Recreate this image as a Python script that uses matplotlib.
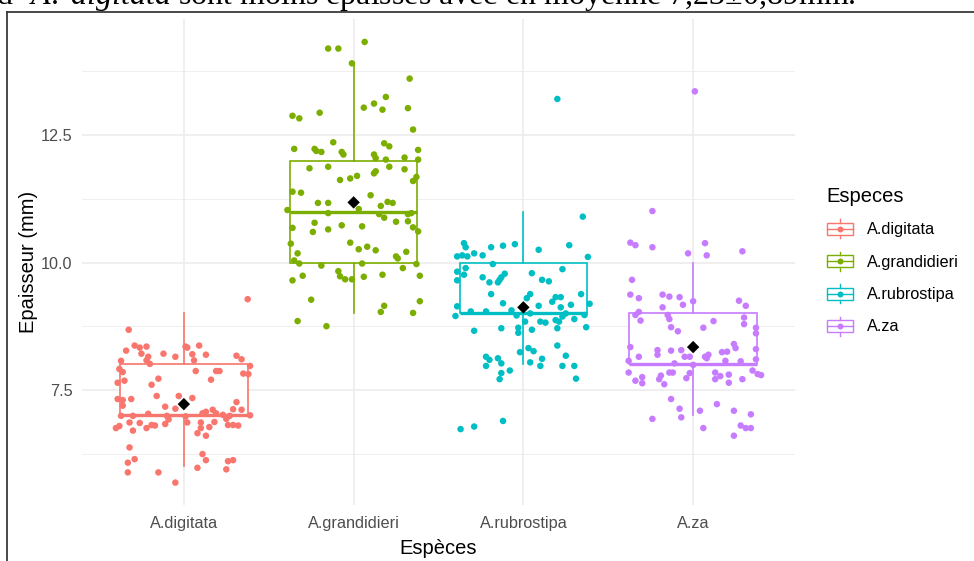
import matplotlib
matplotlib.use("Agg")
import matplotlib.pyplot as plt
from matplotlib.lines import Line2D
from matplotlib.patches import Rectangle
from matplotlib.legend_handler import HandlerBase

plt.rcParams['font.family'] = ['Liberation Sans', 'DejaVu Sans']
plt.rcParams['mathtext.fontset'] = 'custom'
plt.rcParams['mathtext.rm'] = 'Liberation Serif'
plt.rcParams['mathtext.it'] = 'Liberation Serif:italic'

# ---------------- data ----------------
species = ["A.digitata", "A.grandidieri", "A.rubrostipa", "A.za"]
colors = ["#F8766D", "#7CAE00", "#00BFC4", "#C77CFF"]

box_q1 = [7.0, 10.0, 9.0, 8.0]
box_med = [7.0, 11.0, 9.0, 8.0]
box_q3 = [8.0, 12.0, 10.0, 9.0]
box_whislo = [6.0, 9.0, 8.0, 7.0]
box_whishi = [9.0, 13.9, 11.0, 10.0]
group_means = [7.22, 11.18, 9.12, 8.34]

digitata_val = [9.28, 8.68, 8.37, 8.27, 8.33, 8.35, 8.21, 8.15, 8.08, 8.07, 8.01, 8.21, 8.15, 8.35, 8.33,
                8.37, 8.20, 8.19, 8.08, 8.17, 8.10, 7.97, 7.91, 7.85, 7.68, 7.64, 7.72, 7.60, 7.87, 7.87,
                7.87, 7.70, 7.82, 7.81, 7.32, 7.30, 7.19, 7.32, 7.38, 7.17, 7.38, 7.34, 7.26, 7.12, 7.11,
                7.13, 6.99, 6.99, 7.03, 6.99, 6.92, 6.98, 6.86, 7.04, 7.07, 7.11, 7.04, 7.01, 6.93, 6.99,
                7.00, 6.75, 6.79, 6.86, 6.70, 6.85, 6.75, 6.81, 6.80, 6.83, 6.86, 6.75, 6.77, 6.87, 6.65,
                6.60, 6.81, 6.81, 6.80, 6.37, 6.07, 6.14, 5.88, 5.88, 5.68, 6.24, 6.12, 5.97, 6.10, 6.12,
                5.94]
digitata_jit = [.376, -.325, -.29, -.34, -.26, -.22, -.25, -.21, -.22, -.37, -.20, -.12, -.05, .01, .02,
                .09, .05, .13, .06, .31, .34, .39, -.38, -.36, -.35, -.39, -.15, -.19, .07, .19,
                .21, .16, .35, .38, -.39, -.36, -.36, -.31, -.16, -.11, -.03, .05, .31, .29, .34,
                -.05, -.37, -.30, -.21, -.10, -.09, .01, .02, .11, .13, .17, .19, .23, .25, .27,
                .39, -.40, -.38, -.32, -.30, -.26, -.22, -.19, -.17, -.11, .10, .10, .15, .18, .08,
                .13, .26, .29, .32, -.32, -.33, -.29, -.33, -.15, -.05, .11, .13, .08, .26, .29,
                .25]

grandidieri_val = [14.33, 14.20, 14.20, 13.91, 13.61, 12.88, 12.83, 12.94, 13.04, 13.12, 13.25, 13.00,
                   13.03, 12.61, 12.23, 12.23, 12.19, 12.17, 12.36, 12.17, 12.12, 12.34, 12.28, 12.21,
                   12.12, 12.05, 12.02, 12.06, 12.02, 11.85, 11.88, 11.88, 11.83, 11.75, 11.79, 11.70,
                   11.65, 11.62, 11.68, 11.60, 11.39, 11.37, 11.32, 11.17, 11.17, 11.19, 11.17, 11.11,
                   11.03, 10.97, 11.05, 10.95, 10.88, 10.95, 10.97, 10.81, 10.80, 10.78, 10.68, 10.60,
                   10.65, 10.73, 10.71, 10.69, 10.61, 10.37, 10.39, 10.26, 10.31, 10.24, 10.21, 10.12,
                   10.08, 10.18, 10.04, 9.98, 9.94, 9.98, 9.97, 9.89, 9.65, 9.74, 9.83, 9.73,
                   9.67, 9.67, 9.72, 9.76, 9.74, 9.27, 9.15, 9.03, 9.24, 9.01, 8.85, 8.75]
grandidieri_jit = [.065, -.15, -.09, -.01, .33, -.36, -.32, -.20, .06, .12, .19, .17,
                   .32, .35, -.35, -.23, -.22, -.19, -.12, -.07, -.06, .18, .21, .38,
                   .12, .13, .19, .30, .38, -.26, -.15, .21, .30, .12, .13, .02,
                   -.02, -.08, .37, .35, -.36, -.31, .10, -.21, -.15, .20, .23, .16,
                   -.39, -.15, .03, .15, .18, .32, .34, .32, .25, -.23, -.36, -.24,
                   -.15, -.07, .05, .35, .38, -.37, -.02, .03, .08, .13, .31, .25,
                   .26, -.33, -.35, -.32, -.19, .05, .37, .29, -.36, -.30, -.09, -.08,
                   -.05, -.01, .06, .17, .39, -.25, .18, .16, .39, .35, -.33, -.16]

rubrostipa_val = [10.90, 10.38, 10.30, 10.12, 10.14, 10.12, 10.18, 10.14, 10.30, 10.33, 10.36, 10.25,
                  10.34, 10.11, 9.97, 9.82, 9.89, 9.76, 9.65, 9.71, 9.61, 9.66, 9.71, 9.78,
                  9.61, 9.79, 9.66, 9.63, 9.87, 9.38, 9.38, 9.38, 9.30, 9.20, 9.15, 9.23,
                  9.32, 9.32, 9.12, 9.17, 9.19, 9.14, 8.95, 9.04, 9.04, 9.06, 8.96, 8.84,
                  8.84, 8.82, 9.00, 8.87, 8.84, 8.94, 9.00, 8.89, 8.97, 8.73, 8.71, 8.66,
                  8.71, 8.72, 8.62, 8.68, 8.24, 8.32, 8.26, 8.37, 8.17, 8.15, 8.09, 8.12,
                  8.02, 7.97, 8.04, 8.11, 7.97, 7.97, 7.97, 7.88, 7.83, 7.71, 7.72, 6.73,
                  6.78, 6.89, 13.21]
rubrostipa_jit = [.35, -.35, -.34, -.39, -.36, -.33, -.29, -.24, -.19, -.12, -.05, .09,
                  .27, .38, -.18, -.39, -.34, -.35, -.39, -.24, -.20, -.14, -.13, -.11,
                  -.15, .05, .11, .15, .23, -.19, .34, .04, .02, -.12, .09, .17,
                  .19, .22, .22, .28, .39, -.39, -.40, -.31, -.22, -.07, -.04, .01,
                  .10, .13, .04, .19, .21, .23, .25, .30, .36, .37, .20, -.29,
                  -.13, -.03, -.03, .05, -.02, .03, .06, .20, .25, -.22, -.20, -.15,
                  -.13, -.22, .04, .11, .10, .23, .30, -.08, -.13, -.14, .31, -.37,
                  -.29, -.12, .20]

za_val = [11.01, 10.39, 10.34, 10.30, 10.38, 10.14, 10.18, 10.22, 9.66, 9.37, 9.30, 9.37,
          9.33, 9.32, 9.17, 9.24, 9.25, 9.15, 9.12, 8.97, 9.03, 8.86, 8.97, 8.89,
          8.73, 8.65, 8.72, 8.85, 8.92, 8.79, 8.72, 8.61, 8.34, 8.15, 8.28, 8.19,
          8.27, 8.28, 8.15, 8.15, 8.15, 8.19, 8.24, 8.25, 8.40, 8.32, 8.30, 8.07,
          8.02, 7.99, 8.07, 8.06, 8.10, 8.12, 7.84, 7.68, 7.75, 7.63, 7.71, 7.78,
          7.61, 7.84, 7.84, 7.73, 7.83, 7.84, 7.71, 7.77, 7.80, 7.64, 7.71, 7.88,
          7.81, 7.79, 7.32, 7.13, 6.96, 6.93, 7.09, 7.22, 7.09, 7.02, 6.75, 6.80,
          6.75, 6.75, 6.60, 13.36]
za_jit = [-.24, -.37, -.34, -.24, .07, .08, -.03, .29, -.36, -.37, -.32, -.18,
          -.14, -.08, -.06, .0, .27, .31, -.18, -.34, -.32, -.31, -.15, -.14,
          -.13, -.09, .06, .12, .30, .30, .37, .37, -.37, -.32, -.21, -.21,
          -.13, -.07, -.05, -.02, .07, .09, .17, .20, .24, .25, .37, -.38,
          -.11, .0, .19, .28, .37, .08, -.38, -.34, -.30, -.30, -.20, -.19,
          -.17, -.14, -.12, -.04, -.02, .13, .13, .16, .21, .21, .29, .35,
          .38, .40, -.13, -.08, -.07, -.24, .04, .14, .24, .34, .06, .28,
          .31, .34, .24, .01]

point_values = [digitata_val, grandidieri_val, rubrostipa_val, za_val]
point_jitter = [digitata_jit, grandidieri_jit, rubrostipa_jit, za_jit]

y_major = [7.5, 10.0, 12.5]
y_minor = [6.25, 8.75, 11.25, 13.75]
header_text = r"d’ $\mathit{A.\ digitata}$ sont moins épaisses avec en moyenne 7,23±0,89mm."

# ---------------- figure ----------------
W, H = 974, 561
fig = plt.figure(figsize=(W / 100, H / 100), dpi=100)
ax = fig.add_axes([82 / W, 1 - 505 / H, (795 - 82) / W, (505 - 19) / H])
ax.set_facecolor("white")
for s in ax.spines.values():
    s.set_visible(False)

xpos = list(range(len(species)))
ax.set_xlim(-0.6, len(species) - 1 + 0.6)
ax.set_ylim(5.24, 14.78)

# grid
for y in y_minor:
    ax.axhline(y, color="#EBEBEB", lw=0.55, zorder=0)
for y in y_major:
    ax.axhline(y, color="#EBEBEB", lw=1.1, zorder=0)
for x in xpos:
    ax.axvline(x, color="#EBEBEB", lw=1.1, zorder=0)

# boxplots
stats = []
for i in range(len(species)):
    stats.append(dict(med=box_med[i], q1=box_q1[i], q3=box_q3[i],
                      whislo=box_whislo[i], whishi=box_whishi[i], fliers=[]))
for i, st in enumerate(stats):
    c = colors[i]
    ax.bxp([st], positions=[xpos[i]], widths=0.75, showcaps=False, showfliers=False,
           patch_artist=True,
           boxprops=dict(facecolor="white", edgecolor=c, lw=1.2),
           whiskerprops=dict(color=c, lw=1.2),
           medianprops=dict(color=c, lw=2.4, solid_capstyle="butt"),
           zorder=2)

# jittered points
for i in range(len(species)):
    xs = [xpos[i] + j for j in point_jitter[i]]
    ax.scatter(xs, point_values[i], s=22, color=colors[i], edgecolors="none", zorder=3)

# means
ax.scatter(xpos, group_means, marker="D", s=40, color="black", edgecolors="none", zorder=4)

ax.set_xticks(xpos)
ax.set_xticklabels(species)
ax.set_yticks(y_major)
ax.set_yticklabels(["7.5", "10.0", "12.5"])
ax.tick_params(axis="both", length=0, labelsize=11.7, labelcolor="#4D4D4D")
ax.tick_params(axis="x", pad=8)
ax.tick_params(axis="y", pad=7)
ax.set_xlabel("Espèces", fontsize=14.5, color="black", labelpad=5.5)
ax.set_ylabel("Epaisseur (mm)", fontsize=14.5, color="black", labelpad=2)


class BoxKey(HandlerBase):
    def create_artists(self, legend, orig_handle, xdescent, ydescent, width, height, fontsize, trans):
        c = orig_handle.get_color()
        x0, y0 = -xdescent, -ydescent
        cx, cy = x0 + width / 2, y0 + height / 2
        bh = height * 0.62
        arts = [
            Rectangle((x0, cy - bh / 2), width, bh, facecolor="white", edgecolor=c, lw=1.0, transform=trans),
            Line2D([x0, x0 + width], [cy, cy], color=c, lw=1.0, transform=trans),
            Line2D([cx, cx], [cy + bh / 2, y0 + height], color=c, lw=1.0, transform=trans),
            Line2D([cx, cx], [y0, cy - bh / 2], color=c, lw=1.0, transform=trans),
            Line2D([cx], [cy], marker="o", ms=4.3, color=c, mec="none", ls="none", transform=trans),
        ]
        return arts


handles = [Line2D([], [], color=c) for c in colors]
leg = fig.legend(handles, species, loc="upper left", bbox_to_anchor=(826.5 / W, 1 - 187 / H),
                 frameon=False, fontsize=11.7, title="Especes", title_fontsize=14.5,
                 handler_map={Line2D: BoxKey()}, handlelength=1.64, handleheight=1.43,
                 labelspacing=0.82, handletextpad=0.85, borderpad=0, borderaxespad=0,
                 alignment="left")

# document frame and clipped header line from the screenshot
fig.add_artist(Line2D([7 / W, 7 / W], [0, 1 - 11.5 / H], color="#3A3A3A", lw=1.3))
fig.add_artist(Line2D([7 / W, 1], [1 - 11.5 / H, 1 - 11.5 / H], color="#3A3A3A", lw=1.3))
fig.text(-4 / W, 1 - 4 / H, header_text, fontsize=23, family="Liberation Serif",
         va="baseline", ha="left", color="black")

fig.savefig("out.png", dpi=100, facecolor="white")
